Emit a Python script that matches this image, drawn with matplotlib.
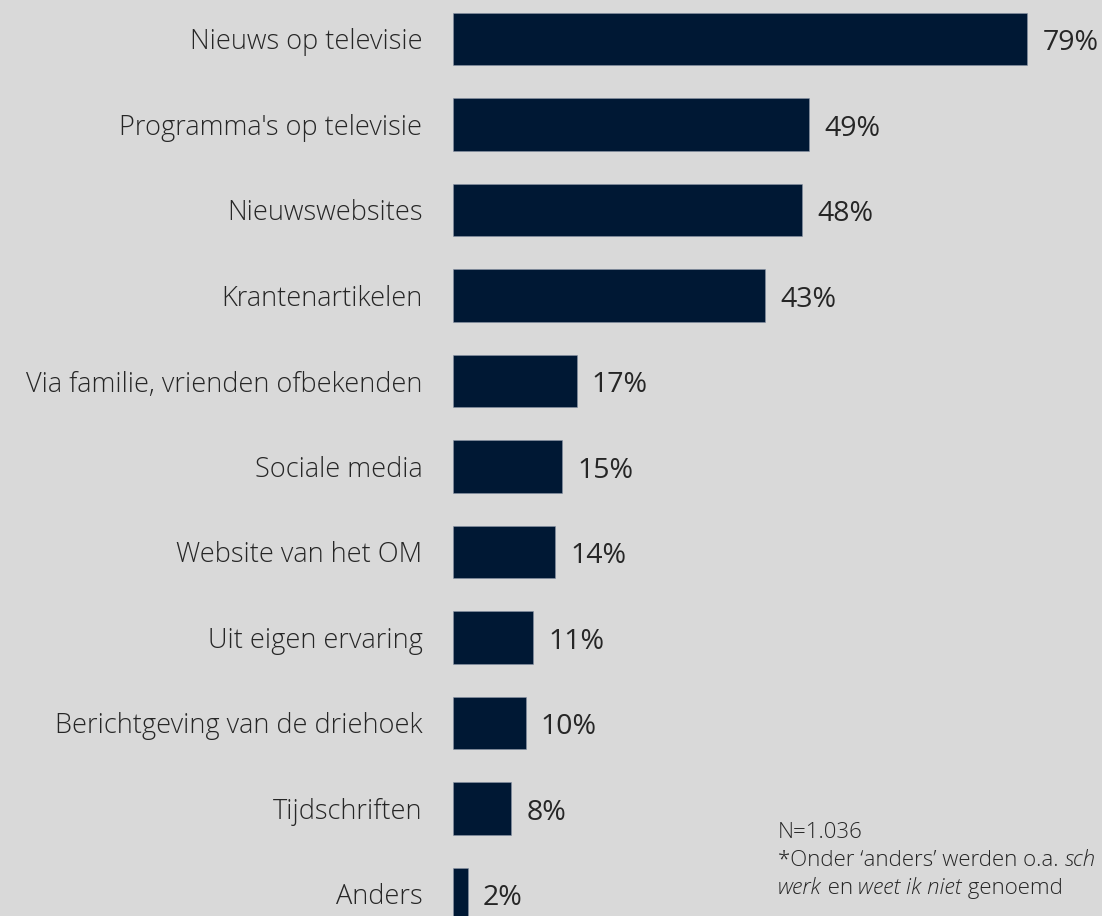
import matplotlib.pyplot as plt

# Data
categories = ["Nieuws op televisie", "Programma's op televisie", "Nieuwswebsites",
              "Krantenartikelen", "Via familie, vrienden ofbekenden", "Sociale media",
              "Website van het OM", "Uit eigen ervaring", "Berichtgeving van de driehoek",
              "Tijdschriften", "Anders"]
values = [79, 49, 48, 43, 17, 15, 14, 11, 10, 8, 2]

bg = '#d9d9d9'
bar_color = '#001834'
text_color = '#262626'

plt.rcParams['font.family'] = ['Open Sans', 'DejaVu Sans']

fig = plt.figure(figsize=(11.02, 9.16), dpi=100, facecolor=bg)
ax = fig.add_axes([453 / 1102, 0, 649 / 1102, 1])
ax.set_facecolor(bg)

pos = list(range(len(categories)))
ax.barh(pos, values, height=0.61, color=bar_color, edgecolor='#8a94a6', linewidth=0.4)

# px per percent ~ 7.266
ax.set_xlim(0, 649 / 7.266)
ax.set_ylim((916 - 39) / 85.5, -39 / 85.5)

ax.set_yticks(pos)
ax.set_yticklabels(categories, fontsize=19.5, color=text_color, fontweight='light')
ax.tick_params(axis='y', length=0, pad=22)
ax.set_xticks([])
for s in ax.spines.values():
    s.set_visible(False)

for p, v in zip(pos, values):
    ax.annotate(f"{v}%", xy=(v, p), xytext=(11, -3), textcoords='offset points',
                va='center', ha='left', fontsize=20.5, color=text_color)

# Footnote
fs = 16
t0 = fig.text(778 / 1102, 1 - 833 / 916, "N=1.036", fontsize=fs, color=text_color,
              va='center', ha='left', fontweight='light')
t1 = fig.text(778 / 1102, 1 - 861 / 916, "*Onder \u2018anders\u2019 werden o.a. ",
              fontsize=fs, color=text_color, va='center', ha='left', fontweight='light')
ax.annotate("sch", xy=(1, 0), xycoords=t1, va='bottom', ha='left',
            fontsize=fs, color=text_color, style='italic', fontweight='light')
t2 = fig.text(778 / 1102, 1 - 888 / 916, "werk", fontsize=fs, color=text_color,
              va='center', ha='left', style='italic', fontweight='light')
t3 = ax.annotate(" en ", xy=(1, 0), xycoords=t2, va='bottom', ha='left',
                 fontsize=fs, color=text_color, fontweight='light')
t4 = ax.annotate("weet ik niet", xy=(1, 0), xycoords=t3, va='bottom', ha='left',
                 fontsize=fs, color=text_color, style='italic', fontweight='light')
ax.annotate(" genoemd", xy=(1, 0), xycoords=t4, va='bottom', ha='left',
            fontsize=fs, color=text_color, fontweight='light')

fig.savefig('out.png', dpi=100, facecolor=bg)
